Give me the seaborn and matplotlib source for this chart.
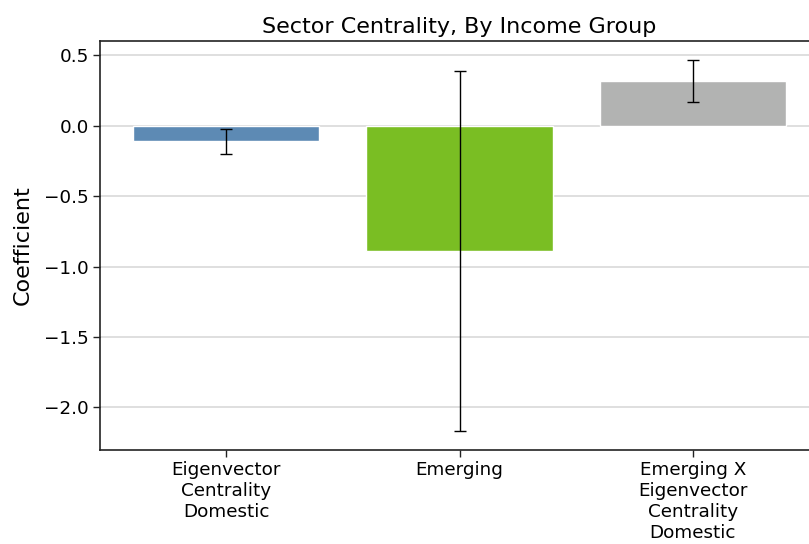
import matplotlib
matplotlib.use("Agg")
import matplotlib.pyplot as plt
import seaborn as sns
import pandas as pd

categories = ["Eigenvector\nCentrality\nDomestic", "Emerging", "Emerging X\nEigenvector\nCentrality\nDomestic"]
coefficients = [-0.106, -0.889, 0.319]
ci_low = [-0.200, -2.170, 0.172]
ci_high = [-0.026, 0.388, 0.468]
bar_colors = ["#5d8ab4", "#7abe23", "#b2b3b2"]

sns.set_theme(style="white")
plt.rcParams["font.family"] = ["DejaVu Sans"]
plt.rcParams["text.color"] = "black"
plt.rcParams["axes.labelcolor"] = "black"

df = pd.DataFrame({"term": categories, "coef": coefficients})

fig = plt.figure(figsize=(8.09, 5.44), dpi=100)
ax = fig.add_axes([100 / 809, 94 / 544, 719 / 809, 409 / 544])

sns.barplot(data=df, x="term", y="coef", hue="term", palette=bar_colors,
            width=0.8, saturation=1, legend=False, ax=ax, zorder=2)

lower = [c - lo for c, lo in zip(coefficients, ci_low)]
upper = [hi - c for c, hi in zip(coefficients, ci_high)]
ax.errorbar(range(len(categories)), coefficients, yerr=[lower, upper],
            fmt="none", ecolor="black", elinewidth=1.0, capsize=4, capthick=1.0, zorder=3)

ax.yaxis.grid(True, color="#d9d9d9", linewidth=1.2, zorder=0)
ax.set_axisbelow(True)
ax.set_xlim(-0.54, 2.54)
ax.set_ylim(-2.302, 0.602)

for side in ["top", "right", "left", "bottom"]:
    ax.spines[side].set_visible(True)
    ax.spines[side].set_color("#222222")
    ax.spines[side].set_linewidth(1.2)

ax.tick_params(axis="both", which="both", length=5, width=1, color="#222222",
               labelsize=13.2, pad=3, bottom=True, left=True, labelcolor="black")
for lbl in ax.get_xticklabels():
    lbl.set_linespacing(1.22)
ax.set_xlabel("")
ax.set_ylabel("Coefficient", fontsize=16, color="black", labelpad=8)
ax.set_title("Sector Centrality, By Income Group", fontsize=16, color="black")

fig.savefig("out.png", dpi=100)
